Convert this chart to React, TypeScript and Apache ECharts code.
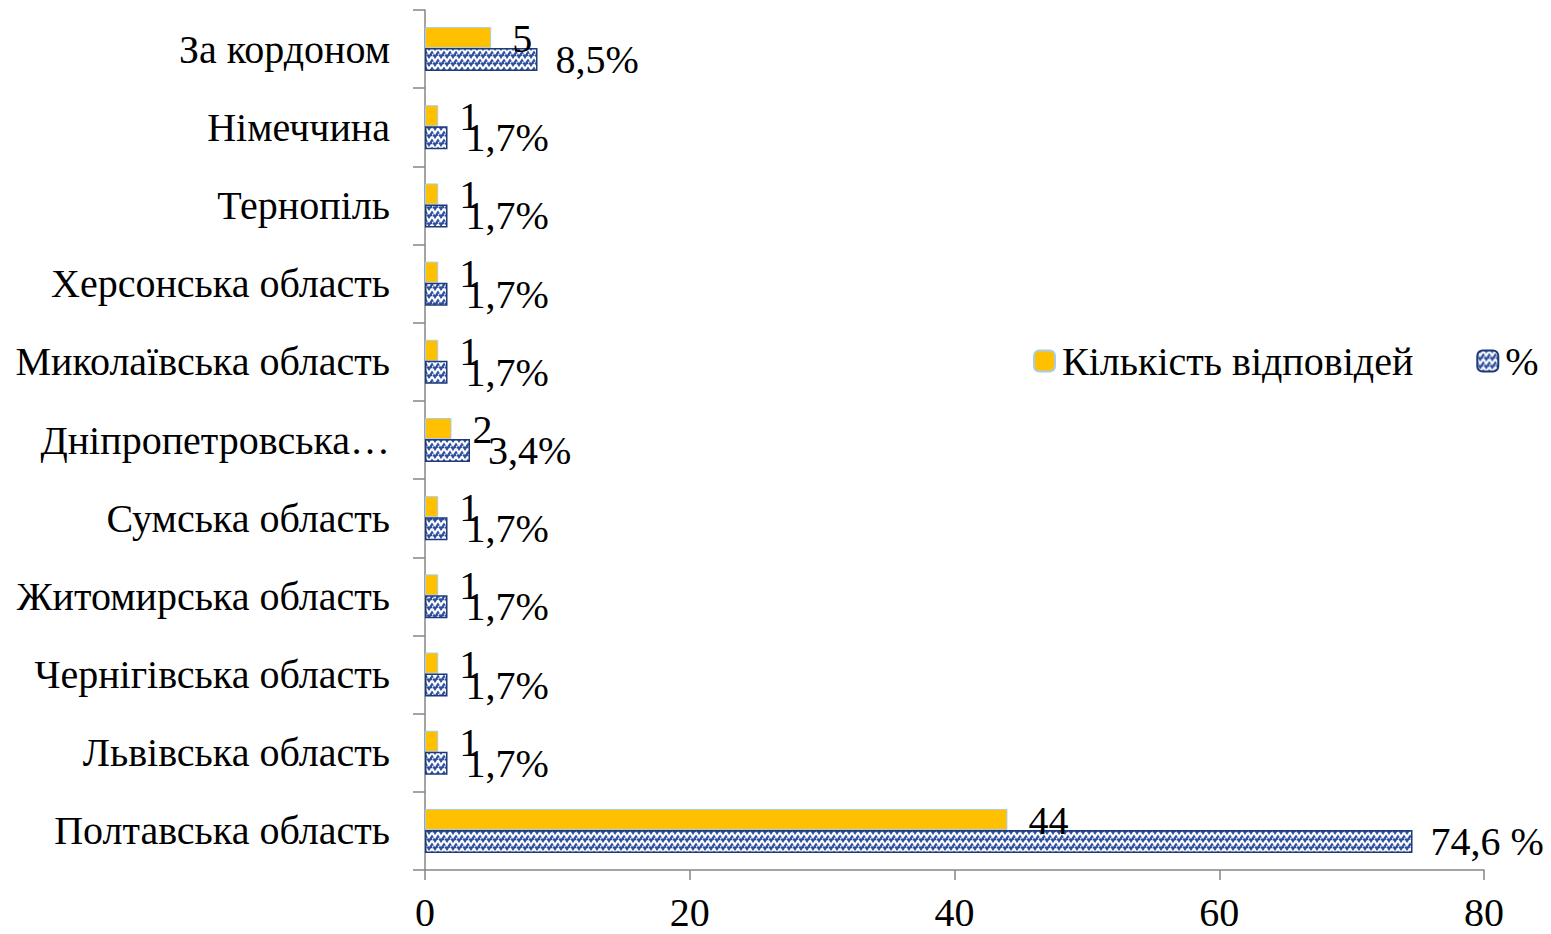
import React, { useEffect, useRef } from "react";
import * as echarts from "echarts";

const categories = [
  "Полтавська область",
  "Львівська область",
  "Чернігівська область",
  "Житомирська область",
  "Сумська область",
  "Дніпропетровська область",
  "Миколаївська область",
  "Херсонська область",
  "Тернопіль",
  "Німеччина",
  "За кордоном",
];
const counts = [44, 1, 1, 1, 1, 2, 1, 1, 1, 1, 5];
const percents = [74.6, 1.7, 1.7, 1.7, 1.7, 3.4, 1.7, 1.7, 1.7, 1.7, 8.5];
const percentLabels = ["74,6 %", "1,7%", "1,7%", "1,7%", "1,7%", "3,4%", "1,7%", "1,7%", "1,7%", "1,7%", "8,5%"];
const xTicks = [0, 20, 40, 60, 80];

const FONT = "'Liberation Serif', 'Times New Roman', serif";
const FS = 40;

const tileSvg =
  "<svg xmlns='http://www.w3.org/2000/svg' width='12' height='8'>" +
  "<rect width='12' height='8' fill='#2F4F9F'/>" +
  "<path d='M0 0.5 L3 5 L6 0.5 L9 5 L12 0.5' stroke='#ffffff' stroke-width='2.2' fill='none'/>" +
  "<path d='M0 7.5 L1.5 5.5 M6 7.5 L7.5 5.5' stroke='#ffffff' stroke-width='1.2' fill='none'/>" +
  "</svg>";
const tileUrl = "data:image/svg+xml;charset=utf-8," + encodeURIComponent(tileSvg);

export default function App() {
  const ref = useRef<HTMLDivElement>(null);
  useEffect(() => {
    document.body.style.margin = "0";
    const chart = echarts.init(ref.current!, null, { renderer: "svg" });
    const pattern: any = { image: tileUrl, repeat: "repeat", imageWidth: 12, imageHeight: 8 };
    chart.setOption({
      animation: false,
      textStyle: { fontFamily: FONT },
      grid: { left: 425, right: 67, top: 10, bottom: 64, containLabel: false },
      legend: {
        left: 1028,
        top: 336,
        itemWidth: 21,
        itemHeight: 21,
        itemGap: 63,
        textStyle: { fontFamily: FONT, fontSize: FS, color: "#000", padding: [0, 0, 0, 2] },
        data: ["Кількість відповідей", "%"],
      },
      xAxis: {
        type: "value",
        min: 0,
        max: 80,
        interval: 20,
        splitLine: { show: false },
        axisLine: { show: true, lineStyle: { color: "#868686", width: 1.5 } },
        axisTick: { show: true, length: 10, lineStyle: { color: "#868686", width: 1.5 } },
        axisLabel: {
          margin: 22,
          fontFamily: FONT,
          fontSize: FS,
          color: "#000",
          formatter: (v: number) => (xTicks.includes(v) ? String(v) : ""),
        },
      },
      yAxis: {
        type: "category",
        data: categories,
        axisLine: { show: true, lineStyle: { color: "#868686", width: 1.5 } },
        axisTick: { show: true, length: 12, lineStyle: { color: "#868686", width: 1.5 } },
        axisLabel: {
          margin: 35,
          fontFamily: FONT,
          fontSize: FS,
          color: "#000",
          formatter: (v: string) => (v.length > 22 ? v.split(" ")[0] + "…" : v),
        },
      },
      series: [
        {
          name: "Кількість відповідей",
          type: "bar",
          data: counts,
          barWidth: 21,
          barGap: "0%",
          itemStyle: { color: "#FFC000", borderColor: "#A9CDE8", borderWidth: 1 },
          label: {
            show: true,
            position: "right",
            distance: 21,
            offset: [0, 1],
            fontFamily: FONT,
            fontSize: FS,
            color: "#000",
          },
        },
        {
          name: "%",
          type: "bar",
          data: percents,
          barWidth: 23,
          itemStyle: { color: pattern, borderColor: "#1F3A7A", borderWidth: 1.5 },
          label: {
            show: true,
            position: "right",
            distance: 18,
            offset: [0, 0],
            fontFamily: FONT,
            fontSize: FS,
            color: "#000",
            formatter: (p: any) => percentLabels[p.dataIndex],
          },
        },
      ],
    });
    return () => chart.dispose();
  }, []);
  return <div ref={ref} style={{ width: 1551, height: 934 }} />;
}
